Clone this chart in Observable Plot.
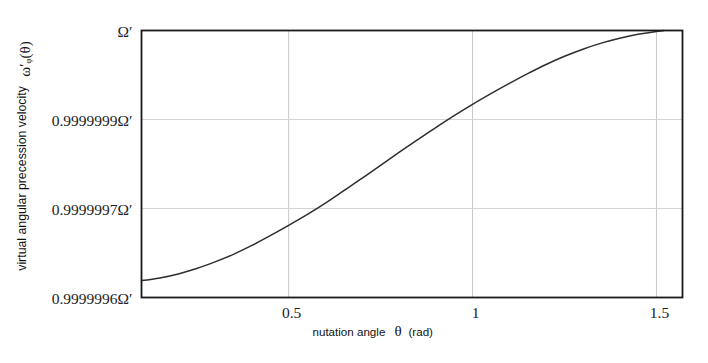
<!DOCTYPE html>
<html>
<head>
<meta charset="utf-8">
<script src="https://cdn.jsdelivr.net/npm/d3@7"></script>
<script src="https://cdn.jsdelivr.net/npm/@observablehq/plot@0.6"></script>
<style>
  html, body { margin: 0; padding: 0; background: #fff; }
  #chart svg { display: block; }
</style>
</head>
<body>
<div id="chart"></div>
<script>
// nutation angle θ (rad)
const theta = [0.10, 0.15, 0.20, 0.25, 0.30, 0.35, 0.40, 0.45, 0.50, 0.55, 0.60, 0.65, 0.70, 0.75, 0.80, 0.85, 0.90, 0.95, 1.00, 1.05, 1.10, 1.15, 1.20, 1.25, 1.30, 1.35, 1.40, 1.45, 1.50, 1.52];
// curve height measured in tick-step units (0 = 0.9999996Ω′ ... 3 = Ω′)
const omega = [0.19, 0.22, 0.265, 0.325, 0.40, 0.485, 0.585, 0.695, 0.81, 0.93, 1.06, 1.20, 1.34, 1.485, 1.63, 1.772, 1.91, 2.043, 2.17, 2.29, 2.405, 2.515, 2.618, 2.71, 2.79, 2.858, 2.913, 2.958, 2.99, 3.0];

const xTicks = [0.5, 1, 1.5];
const yTicks = [0, 1, 2, 3];
const yTickLabels = ["0.9999996Ω′", "0.9999997Ω′", "0.9999999Ω′", "Ω′"];

const data = theta.map((t, i) => ({theta: t, omega: omega[i]}));

const serif = "'Liberation Serif', 'Times New Roman', serif";
const sans = "'Liberation Sans', Arial, sans-serif";

const chart = Plot.plot({
  width: 708,
  height: 363,
  marginLeft: 141,
  marginRight: 26,
  marginTop: 30,
  marginBottom: 66,
  style: {background: "#fff", color: "#111"},
  x: {domain: [0.1, Math.PI / 2]},
  y: {domain: [0, 3]},
  marks: [
    Plot.gridX(xTicks, {stroke: "#c8c8c8", strokeOpacity: 1, strokeWidth: 1}),
    Plot.gridY([1, 2], {stroke: "#d4d4d4", strokeOpacity: 1, strokeWidth: 1}),
    Plot.axisX(xTicks, {
      tickSize: 0, tickPadding: 9, dx: 3,
      tickFormat: d => String(d),
      fontFamily: serif, fontSize: 15.5, label: null, fill: "#222"
    }),
    Plot.axisY(yTicks, {
      tickSize: 0, tickPadding: 9, dy: 2,
      tickFormat: d => yTickLabels[yTicks.indexOf(d)],
      fontFamily: serif, fontSize: 15.5, label: null, fill: "#222"
    }),
    Plot.line(data, {x: "theta", y: "omega", curve: "monotone-x", stroke: "#2e2e2e", strokeWidth: 1.5}),
    Plot.frame({stroke: "#1a1a1a", strokeWidth: 1.8}),
    // y-axis title
    Plot.text(["virtual angular precession velocity"], {
      text: d => d, frameAnchor: "left", rotate: -90, dx: -119, dy: 14.5,
      textAnchor: "middle", lineAnchor: "middle",
      fontFamily: sans, fontSize: 12.3, fill: "#111"
    }),
    Plot.text(["ω′ᵩ(θ)"], {
      text: d => d, frameAnchor: "left", rotate: -90, dx: -116, dy: -105,
      textAnchor: "middle", lineAnchor: "middle",
      fontFamily: serif, fontSize: 15, fill: "#111"
    }),
    // x-axis title
    Plot.text(["nutation angle"], {
      text: d => d, frameAnchor: "bottom-left", dx: 171, dy: 35,
      textAnchor: "start", lineAnchor: "middle",
      fontFamily: sans, fontSize: 11.6, fill: "#111"
    }),
    Plot.text(["θ"], {
      text: d => d, frameAnchor: "bottom-left", dx: 256.5, dy: 34,
      textAnchor: "middle", lineAnchor: "middle",
      fontFamily: serif, fontSize: 15, fill: "#111"
    }),
    Plot.text(["(rad)"], {
      text: d => d, frameAnchor: "bottom-left", dx: 267, dy: 35,
      textAnchor: "start", lineAnchor: "middle",
      fontFamily: sans, fontSize: 11.6, fill: "#111"
    })
  ]
});

document.getElementById("chart").appendChild(chart);
</script>
</body>
</html>
